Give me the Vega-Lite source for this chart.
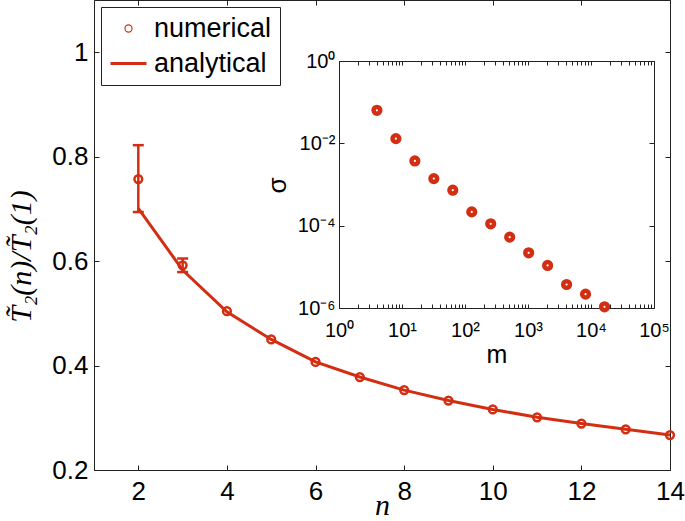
{
  "$schema": "https://vega.github.io/schema/vega-lite/v6.json",
  "width": 576,
  "height": 470,
  "autosize": "none",
  "padding": {"left": 94, "top": 0, "right": 15, "bottom": 51},
  "background": "white",
  "config": {
    "view": {"stroke": "#222", "strokeWidth": 1},
    "axis": {
      "domainColor": "#222", "tickColor": "#222", "labelColor": "#000", "titleColor": "#000",
      "grid": false, "labelFont": "Liberation Sans", "titleFont": "Liberation Sans",
      "labelFontSize": 26, "titleFontSize": 26, "titleFontWeight": "normal", "labelFontWeight": "normal",
      "tickWidth": 1, "domainWidth": 1
    }
  },
  "datasets": {
    "main": [
      {"n": 2, "numerical": 0.757, "analytical": 0.701, "lo": 0.694, "hi": 0.822, "series": "numerical"},
      {"n": 3, "numerical": 0.592, "analytical": 0.583, "lo": 0.579, "hi": 0.605, "series": "numerical"},
      {"n": 4, "numerical": 0.504, "analytical": 0.503, "lo": null, "hi": null, "series": "numerical"},
      {"n": 5, "numerical": 0.450, "analytical": 0.450, "lo": null, "hi": null, "series": "numerical"},
      {"n": 6, "numerical": 0.407, "analytical": 0.407, "lo": null, "hi": null, "series": "numerical"},
      {"n": 7, "numerical": 0.378, "analytical": 0.378, "lo": null, "hi": null, "series": "numerical"},
      {"n": 8, "numerical": 0.353, "analytical": 0.353, "lo": null, "hi": null, "series": "numerical"},
      {"n": 9, "numerical": 0.333, "analytical": 0.333, "lo": null, "hi": null, "series": "numerical"},
      {"n": 10, "numerical": 0.316, "analytical": 0.316, "lo": null, "hi": null, "series": "numerical"},
      {"n": 11, "numerical": 0.301, "analytical": 0.301, "lo": null, "hi": null, "series": "numerical"},
      {"n": 12, "numerical": 0.289, "analytical": 0.289, "lo": null, "hi": null, "series": "numerical"},
      {"n": 13, "numerical": 0.278, "analytical": 0.278, "lo": null, "hi": null, "series": "numerical"},
      {"n": 14, "numerical": 0.267, "analytical": 0.267, "lo": null, "hi": null, "series": "numerical"}
    ],
    "inset": [
      {"m": 4, "sigma": 0.0635},
      {"m": 8, "sigma": 0.0130},
      {"m": 16, "sigma": 0.00374},
      {"m": 32, "sigma": 0.00139},
      {"m": 64, "sigma": 0.000728},
      {"m": 128, "sigma": 0.000216},
      {"m": 256, "sigma": 0.000111},
      {"m": 512, "sigma": 0.0000526},
      {"m": 1024, "sigma": 0.0000219},
      {"m": 2048, "sigma": 0.0000108},
      {"m": 4096, "sigma": 0.00000372},
      {"m": 8192, "sigma": 0.00000217},
      {"m": 16384, "sigma": 0.00000107}
    ]
  },
  "layer": [
    {
      "data": {"name": "main"},
      "encoding": {
        "x": {
          "field": "n", "type": "quantitative",
          "scale": {"domain": [1, 14], "nice": false, "zero": false},
          "axis": {
            "orient": "bottom", "values": [2, 4, 6, 8, 10, 12, 14], "format": "d",
            "tickSize": -5, "labelPadding": 13, "labelFlush": false,
            "title": "n", "titleFont": "Liberation Serif", "titleFontStyle": "italic", "titleFontSize": 30,
            "titleBaseline": "alphabetic", "titleY": 44
          }
        }
      },
      "layer": [
        {
          "mark": {"type": "line", "color": "#d42e12", "strokeWidth": 3},
          "encoding": {
            "y": {
              "field": "analytical", "type": "quantitative",
              "scale": {"domain": [0.2, 1.1], "nice": false, "zero": false},
              "axis": {
                "orient": "left", "values": [0.2, 0.4, 0.6, 0.8, 1], "format": "~g",
                "tickSize": -5, "labelPadding": 11,
                "title": "T\u0303\u2082(n)/T\u0303\u2082(1)", "titleFont": "Liberation Serif", "titleFontStyle": "italic",
                "titleFontSize": 30, "titleBaseline": "alphabetic", "titleX": -64, "titleY": 256, "titleAngle": -90
              }
            }
          }
        },
        {
          "transform": [{"filter": "datum.lo != null"}],
          "mark": {"type": "rule", "color": "#d42e12", "strokeWidth": 2.5},
          "encoding": {
            "y": {"field": "lo", "type": "quantitative", "title": "T\u0303\u2082(n)/T\u0303\u2082(1)"},
            "y2": {"field": "hi"}
          }
        },
        {
          "transform": [{"filter": "datum.lo != null"}],
          "mark": {"type": "tick", "orient": "horizontal", "size": 11, "thickness": 2.5, "color": "#d42e12", "opacity": 1},
          "encoding": {
            "y": {"field": "lo", "type": "quantitative", "title": "T\u0303\u2082(n)/T\u0303\u2082(1)"}
          }
        },
        {
          "transform": [{"filter": "datum.lo != null"}],
          "mark": {"type": "tick", "orient": "horizontal", "size": 11, "thickness": 2.5, "color": "#d42e12", "opacity": 1},
          "encoding": {
            "y": {"field": "hi", "type": "quantitative", "title": "T\u0303\u2082(n)/T\u0303\u2082(1)"}
          }
        },
        {
          "mark": {"type": "point", "filled": false, "color": "#d42e12", "strokeWidth": 2.5, "size": 60, "opacity": 1},
          "encoding": {
            "y": {"field": "numerical", "type": "quantitative", "title": "T\u0303\u2082(n)/T\u0303\u2082(1)"}
          }
        },
        {
          "transform": [{"filter": "false"}],
          "mark": {"type": "point", "filled": false, "color": "#d42e12", "opacity": 1},
          "encoding": {
            "y": {"field": "numerical", "type": "quantitative", "title": "T\u0303\u2082(n)/T\u0303\u2082(1)"},
            "shape": {
              "field": "series", "type": "nominal",
              "scale": {"domain": ["numerical", "analytical"], "range": ["circle", "stroke"]},
              "legend": {
                "title": null, "orient": "top-left", "offset": 7,
                "strokeColor": "#222", "fillColor": "white", "padding": 8,
                "labelFont": "Liberation Sans", "labelFontSize": 27, "labelColor": "#000", "labelOffset": 6,
                "rowPadding": 2, "symbolStrokeColor": "#d42e12"
              }
            },
            "size": {
              "field": "series", "type": "nominal",
              "scale": {"domain": ["numerical", "analytical"], "range": [50, 1296]},
              "legend": {
                "title": null, "orient": "top-left", "offset": 7,
                "strokeColor": "#222", "fillColor": "white", "padding": 8,
                "labelFont": "Liberation Sans", "labelFontSize": 27, "labelColor": "#000", "labelOffset": 6,
                "rowPadding": 2, "symbolStrokeColor": "#d42e12"
              }
            },
            "strokeWidth": {
              "field": "series", "type": "nominal",
              "scale": {"domain": ["numerical", "analytical"], "range": [1.2, 3]},
              "legend": {
                "title": null, "orient": "top-left", "offset": 7,
                "strokeColor": "#222", "fillColor": "white", "padding": 8,
                "labelFont": "Liberation Sans", "labelFontSize": 27, "labelColor": "#000", "labelOffset": 6,
                "rowPadding": 2, "symbolStrokeColor": "#d42e12"
              }
            }
          }
        }
      ]
    },
    {
      "data": {"name": "main"},
      "mark": {"type": "point", "opacity": 0},
      "encoding": {
        "x": {
          "field": "n", "type": "quantitative",
          "scale": {"domain": [1, 14], "nice": false, "zero": false},
          "axis": {"orient": "top", "values": [2, 4, 6, 8, 10, 12, 14], "labels": false, "tickSize": -5, "domain": false, "title": null}
        },
        "y": {
          "field": "numerical", "type": "quantitative",
          "scale": {"domain": [0.2, 1.1], "nice": false, "zero": false},
          "axis": {"orient": "right", "values": [0.2, 0.4, 0.6, 0.8, 1], "labels": false, "tickSize": -5, "domain": false, "title": null}
        }
      }
    },
    {
      "data": {"name": "inset"},
      "mark": {"type": "point", "filled": false, "color": "#d42e12", "strokeWidth": 4.5, "size": 45, "opacity": 1},
      "encoding": {
        "x": {
          "field": "m", "type": "quantitative",
          "scale": {"type": "log", "domain": [1, 100000], "range": [245, 560], "nice": false},
          "axis": {
            "orient": "bottom", "offset": -162,
            "values": [1,2,3,4,5,6,7,8,9,10,20,30,40,50,60,70,80,90,100,200,300,400,500,600,700,800,900,1000,2000,3000,4000,5000,6000,7000,8000,9000,10000,20000,30000,40000,50000,60000,70000,80000,90000,100000],
            "labelExpr": "datum.value == 1 ? '10⁰' : datum.value == 10 ? '10¹' : datum.value == 100 ? '10²' : datum.value == 1000 ? '10³' : datum.value == 10000 ? '10⁴' : datum.value == 100000 ? '10⁵' : ''",
            "labelOverlap": false, "labelFlush": false, "labelFontSize": 20, "labelPadding": 16,
            "tickSize": -4,
            "title": "m", "titleFontSize": 25, "titleBaseline": "alphabetic", "titleY": 54
          }
        },
        "y": {
          "field": "sigma", "type": "quantitative",
          "scale": {"type": "log", "domain": [0.000001, 1], "range": [308, 61], "nice": false},
          "axis": {
            "orient": "left", "offset": -245,
            "values": [0.000001, 0.0001, 0.01, 1],
            "labelExpr": "datum.value == 1 ? '10⁰' : datum.value == 0.01 ? '10⁻²' : datum.value == 0.0001 ? '10⁻⁴' : '10⁻⁶'",
            "labelOverlap": false, "labelFlush": false, "labelFontSize": 20, "labelPadding": 9,
            "tickSize": -5,
            "title": "σ", "titleFontSize": 26, "titleBaseline": "alphabetic", "titleX": -54, "titleY": 185, "titleAngle": -90
          }
        }
      }
    },
    {
      "data": {"name": "inset"},
      "mark": {"type": "point", "opacity": 0},
      "encoding": {
        "x": {
          "field": "m", "type": "quantitative",
          "scale": {"type": "log", "domain": [1, 100000], "range": [245, 560], "nice": false},
          "axis": {
            "orient": "top", "offset": -61,
            "values": [1,2,3,4,5,6,7,8,9,10,20,30,40,50,60,70,80,90,100,200,300,400,500,600,700,800,900,1000,2000,3000,4000,5000,6000,7000,8000,9000,10000,20000,30000,40000,50000,60000,70000,80000,90000,100000],
            "labels": false, "tickSize": -4, "title": null
          }
        },
        "y": {
          "field": "sigma", "type": "quantitative",
          "scale": {"type": "log", "domain": [0.000001, 1], "range": [308, 61], "nice": false},
          "axis": {
            "orient": "right", "offset": -16,
            "values": [0.000001, 0.0001, 0.01, 1],
            "labels": false, "tickSize": -5, "title": null
          }
        }
      }
    }
  ],
  "resolve": {"scale": {"x": "independent", "y": "independent"}, "axis": {"x": "independent", "y": "independent"}}
}
